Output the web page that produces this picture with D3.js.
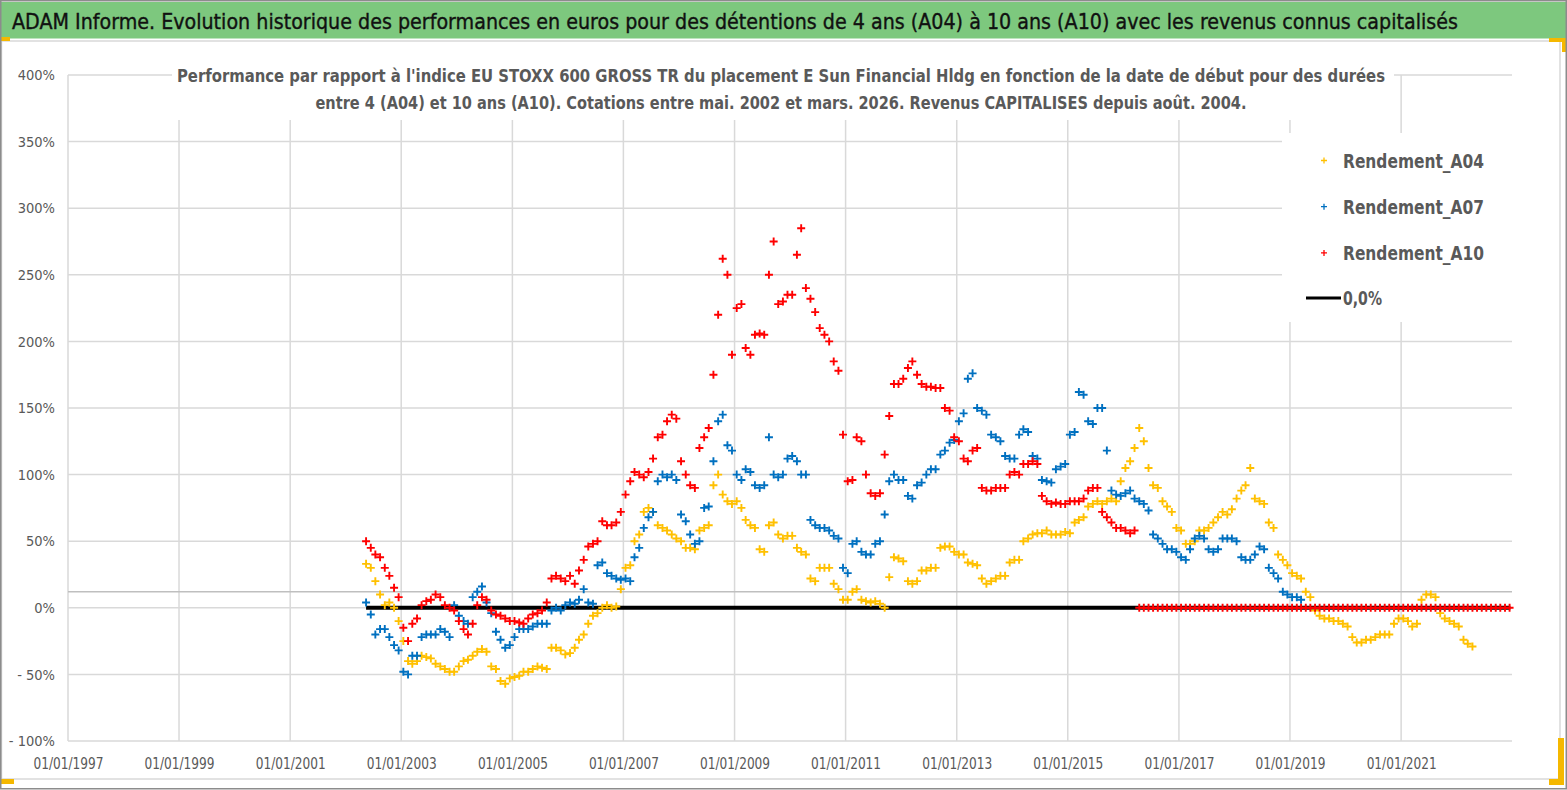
<!DOCTYPE html>
<html>
<head>
<meta charset="utf-8">
<script src="https://cdn.jsdelivr.net/npm/d3@7"></script>
<style>
  html, body { margin: 0; padding: 0; background: #fff; }
  svg { display: block; }
</style>
</head>
<body>
<div id="chart"></div>
<script>
// monthly readings, first point mid-May 2002
var firstPoint = new Date(2002, 4, 15);
var lastDate = new Date(2022, 11, 20);

// 4 years, May 2002 -> Apr 2022
var rendementA04 = [
  33, 30, 20, 10, 2, 4, 0, -10,                       // 2002
  -25, -40, -42, -40, -36, -37, -38, -42, -44, -46, -48, -48,
  -44, -40, -39, -36, -33, -31, -33, -44, -46, -55, -57, -53,
  -52, -51, -48, -48, -46, -44, -45, -46, -30, -30, -32, -35,
  -34, -30, -24, -20, -12, -6, -4, 0, 2, 0, 1, 14,
  30, 32, 50, 55, 72, 75, 72, 62, 60, 58, 55, 52,     // 2007
  50, 45, 45, 44, 58, 60, 62, 92, 100, 85, 80, 78,
  80, 75, 66, 62, 60, 44, 42, 62, 64, 55, 52, 54,
  54, 45, 42, 40, 22, 20, 30, 30, 30, 18, 14, 6,
  6, 12, 14, 6, 5, 4, 5, 3, 0, 23, 38, 37,
  35, 20, 18, 20, 28, 28, 30, 30, 45, 46, 46, 42,     // 2012
  40, 40, 34, 33, 32, 22, 18, 20, 22, 24, 24, 34,
  36, 36, 50, 52, 55, 56, 56, 58, 55, 55, 55, 57,
  56, 64, 66, 68, 76, 78, 80, 78, 80, 82, 80, 95,
  105, 110, 120, 135, 125, 105, 92, 90, 80, 76, 72, 60,
  58, 48, 48, 50, 58, 58, 60, 64, 68, 72, 70, 74,     // 2017
  82, 88, 92, 105, 82, 80, 78, 64, 60, 40, 36, 32,
  26, 24, 22, 12, 8, -2, -6, -8, -8, -10, -10, -12,
  -14, -22, -26, -26, -24, -24, -22, -20, -20, -20, -12, -8,
  -8, -10, -14, -12, 6, 10, 10, 8, -4, -8, -10, -12,
  -14, -24, -27, -29                                  // 2022
];

// 7 years, May 2002 -> Mar 2019
var rendementA07 = [
  4, -5, -20, -16, -16, -22, -28, -32,                // 2002
  -48, -50, -36, -36, -22, -20, -20, -20, -16, -18, -22, 2,
  -6, -10, -12, 8, 12, 16, 4, -4, -18, -24, -30, -28,
  -22, -16, -16, -16, -14, -12, -12, -12, -2, 0, -2, 2,
  4, 3, 6, 14, 4, 3, 32, 34, 26, 24, 22, 21,
  22, 20, 38, 45, 60, 68, 72, 95, 100, 98, 100, 96,   // 2007
  70, 65, 55, 48, 50, 75, 76, 110, 140, 145, 122, 118,
  100, 96, 104, 102, 92, 90, 92, 128, 100, 98, 100, 112,
  114, 110, 100, 100, 66, 62, 60, 60, 58, 54, 52, 30,
  26, 48, 50, 42, 40, 40, 48, 50, 70, 95, 100, 96,
  96, 84, 82, 92, 94, 100, 104, 104, 115, 118, 124, 126, // 2012
  140, 146, 172, 176, 150, 148, 145, 130, 128, 125, 114, 112,
  112, 130, 134, 132, 114, 112, 96, 95, 94, 104, 106, 108,
  130, 132, 162, 160, 140, 138, 150, 150, 118, 88, 85, 84,
  86, 88, 82, 80, 78, 73, 55, 52, 48, 44, 44, 42,
  38, 36, 44, 52, 54, 52, 44, 42, 44, 52, 52, 52,     // 2017
  50, 38, 36, 36, 40, 46, 44, 30, 26, 22, 12, 10,
  8, 8, 6
];

// 10 years, May 2002 -> Mar 2016, then 0 up to Dec 2022
var rendementA10 = [
  50, 45, 40, 38, 30, 24, 15, 8,                      // 2002
  -15, -25, -12, -8, 2, 5, 6, 10, 8, 2, 0, -2,
  -10, -16, -20, -12, 2, 8, 6, -2, -5, -6, -8, -10,
  -10, -11, -12, -8, -5, -4, -2, 4, 22, 24, 22, 20,
  24, 18, 28, 36, 46, 48, 50, 65, 62, 62, 64, 72,
  85, 95, 102, 100, 98, 102, 112, 128, 130, 140, 145, 142, // 2007
  110, 100, 92, 90, 120, 128, 135, 175, 220, 262, 250, 190,
  225, 228, 195, 190, 205, 206, 205, 250, 275, 228, 230, 235,
  235, 265, 285, 240, 232, 222, 210, 205, 200, 185, 178, 130,
  95, 96, 128, 125, 100, 86, 84, 86, 115, 144, 168, 168,
  172, 180, 185, 175, 168, 166, 166, 165, 165, 150, 148, 128, // 2012
  125, 112, 110, 118, 120, 90, 88, 88, 90, 90, 90, 100,
  102, 100, 108, 108, 110, 108, 84, 80, 78, 79, 78, 78,
  80, 80, 80, 82, 88, 90, 90, 72, 68, 64, 60, 60,
  58, 56, 58, 0, 0, 0, 0, 0, 0, 0, 0, 0,              // 2016
  0, 0, 0, 0, 0, 0, 0, 0, 0, 0, 0, 0,
  0, 0, 0, 0, 0, 0, 0, 0, 0, 0, 0, 0,
  0, 0, 0, 0, 0, 0, 0, 0, 0, 0, 0, 0,
  0, 0, 0, 0, 0, 0, 0, 0, 0, 0, 0, 0,
  0, 0, 0, 0, 0, 0, 0, 0, 0, 0, 0, 0,
  0, 0, 0, 0, 0, 0, 0, 0, 0, 0, 0, 0                  // 2022
];

var seriesNames = ['Rendement_A04', 'Rendement_A07', 'Rendement_A10'];
var seriesColors = ['#FFC000', '#0070C0', '#FF0000'];
var zeroLabel = '0,0%';
var yTicks = [-100, -50, 0, 50, 100, 150, 200, 250, 300, 350, 400];
var xTickYears = [1997, 1999, 2001, 2003, 2005, 2007, 2009, 2011, 2013, 2015, 2017, 2019, 2021];
var axisCross = 12;

var titleText = 'ADAM Informe. Evolution historique des performances en euros pour des détentions de 4 ans (A04) à 10 ans (A10) avec les revenus connus capitalisés';
var subtitleLines = [
  "Performance par rapport à l'indice EU STOXX 600 GROSS TR  du placement E Sun Financial Hldg  en fonction de la date de début pour des durées",
  'entre 4 (A04) et 10 ans (A10). Cotations entre mai. 2002 et mars. 2026. Revenus CAPITALISES depuis août. 2004.'
];

var W = 1567, H = 790;
var font = '"Liberation Sans Narrow", "DejaVu Sans Condensed", "Roboto Condensed", sans-serif';
var grey = '#595959';

var svg = d3.select('#chart').append('svg').attr('width', W).attr('height', H);

svg.append('rect').attr('width', W).attr('height', H).attr('fill', '#fff');
// chart area frame
svg.append('rect').attr('x', 1.5).attr('y', 41).attr('width', 1558.5).attr('height', 738)
  .attr('fill', '#fff').attr('stroke', '#d9d9d9').attr('stroke-width', 1.5);

// title band
svg.append('rect').attr('x', 0).attr('y', 2).attr('width', W).attr('height', 36.5).attr('fill', '#7dc87e');
svg.append('text').attr('x', 12).attr('y', 29).text(titleText)
  .attr('font-family', font).attr('font-size', 21).attr('fill', '#111')
  .attr('textLength', 1446).attr('lengthAdjust', 'spacingAndGlyphs')
  .style('stroke', '#111').style('stroke-width', 0.35);

var x = d3.scaleTime().domain([new Date(1997, 0, 1), new Date(2022, 11, 31)]).range([68, 1512]);
var y = d3.scaleLinear().domain([-100, 400]).range([741, 75]);

var g = svg.append('g');

// grid
g.selectAll('.hgrid').data(yTicks).enter().append('line')
  .attr('x1', 68).attr('x2', 1512)
  .attr('y1', function(d) { return y(d); }).attr('y2', function(d) { return y(d); })
  .attr('stroke', '#d9d9d9').attr('stroke-width', 1.5);
g.selectAll('.vgrid').data(xTickYears).enter().append('line')
  .attr('x1', function(d) { return x(new Date(d, 0, 1)); })
  .attr('x2', function(d) { return x(new Date(d, 0, 1)); })
  .attr('y1', y(400)).attr('y2', y(-100))
  .attr('stroke', '#d9d9d9').attr('stroke-width', 1.5);
g.append('line').attr('x1', 68).attr('x2', 1512)
  .attr('y1', y(axisCross)).attr('y2', y(axisCross))
  .attr('stroke', '#bfbfbf').attr('stroke-width', 1.5);

// axes labels
var yAxis = d3.axisLeft(y).tickValues(yTicks).tickSize(0).tickPadding(13)
  .tickFormat(function(d) { return d < 0 ? '- ' + Math.abs(d) + '%' : d + '%'; });
var ya = svg.append('g').attr('transform', 'translate(68,0)').call(yAxis);
ya.select('.domain').remove();
ya.selectAll('text').attr('font-family', font).attr('font-size', 14.5).attr('fill', grey);

var xAxis = d3.axisBottom(x).tickValues(xTickYears.map(function(d) { return new Date(d, 0, 1); }))
  .tickSize(0).tickPadding(17).tickFormat(d3.timeFormat('%d/%m/%Y'));
var xa = svg.append('g').attr('transform', 'translate(0,' + y(-100) + ')').call(xAxis);
xa.select('.domain').remove();
xa.selectAll('text').attr('font-family', font).attr('font-size', 15.5).attr('fill', grey)
  .attr('textLength', 70).attr('lengthAdjust', 'spacingAndGlyphs');

// subtitle box
svg.append('rect').attr('x', 172).attr('y', 60).attr('width', 1222).attr('height', 60).attr('fill', '#fff');
svg.selectAll('.sub').data(subtitleLines).enter().append('text')
  .attr('x', 781).attr('y', function(d, i) { return 82 + i * 27; })
  .attr('text-anchor', 'middle').text(function(d) { return d; })
  .attr('font-family', font).attr('font-size', 17).attr('font-weight', 'bold').attr('fill', grey)
  .attr('textLength', function(d, i) { return i === 0 ? 1208 : 931; })
  .attr('lengthAdjust', 'spacingAndGlyphs');

// 0% reference line
svg.append('line').attr('x1', x(firstPoint)).attr('x2', x(lastDate))
  .attr('y1', y(0)).attr('y2', y(0)).attr('stroke', '#000').attr('stroke-width', 4);

function plus(s) {
  return 'M' + (-s) + ',0H' + s + 'M0,' + (-s) + 'V' + s;
}

[rendementA04, rendementA07, rendementA10].forEach(function(vals, k) {
  var pts = vals.map(function(v, i) {
    return { date: d3.timeMonth.offset(firstPoint, i), value: v };
  });
  svg.append('g').selectAll('path').data(pts).enter().append('path')
    .attr('transform', function(d) { return 'translate(' + x(d.date) + ',' + y(d.value) + ')'; })
    .attr('d', plus(4))
    .attr('stroke', seriesColors[k]).attr('stroke-width', 1.9).attr('fill', 'none');
});

// legend
var lg = svg.append('g');
lg.append('rect').attr('x', 1282).attr('y', 133).attr('width', 266).attr('height', 189).attr('fill', '#fff');
seriesNames.forEach(function(name, i) {
  var cy = 160.5 + i * 46.2;
  lg.append('path').attr('transform', 'translate(1324,' + cy + ')').attr('d', plus(3))
    .attr('stroke', seriesColors[i]).attr('stroke-width', 1.3);
  lg.append('text').attr('x', 1343).attr('y', cy + 7).text(name)
    .attr('font-family', font).attr('font-size', 19).attr('font-weight', 'bold').attr('fill', grey)
    .attr('textLength', 141).attr('lengthAdjust', 'spacingAndGlyphs');
});
lg.append('line').attr('x1', 1306).attr('x2', 1341).attr('y1', 298).attr('y2', 298)
  .attr('stroke', '#000').attr('stroke-width', 3);
lg.append('text').attr('x', 1343).attr('y', 305).text(zeroLabel)
  .attr('font-family', font).attr('font-size', 19).attr('font-weight', 'bold').attr('fill', grey)
  .attr('textLength', 39).attr('lengthAdjust', 'spacingAndGlyphs');

// selection handles and outer frame
var handle = '#f5b800';
svg.append('rect').attr('x', 0).attr('y', 37).attr('width', 10).attr('height', 4).attr('fill', handle);
svg.append('rect').attr('x', 1549).attr('y', 38).attr('width', 18).attr('height', 4).attr('fill', handle);
svg.append('rect').attr('x', 1562).attr('y', 38).attr('width', 5).attr('height', 14).attr('fill', handle);
svg.append('rect').attr('x', 1558).attr('y', 738).attr('width', 6).attr('height', 47).attr('fill', handle);
svg.append('rect').attr('x', 1549).attr('y', 779).attr('width', 15).attr('height', 6).attr('fill', handle);
svg.append('rect').attr('x', 0).attr('y', 779).attr('width', 14).attr('height', 5).attr('fill', handle);
svg.append('rect').attr('x', 0.75).attr('y', 0.75).attr('width', W - 1.5).attr('height', H - 2)
  .attr('fill', 'none').attr('stroke', '#8c8c8c').attr('stroke-width', 1.5);
</script>
</body>
</html>
